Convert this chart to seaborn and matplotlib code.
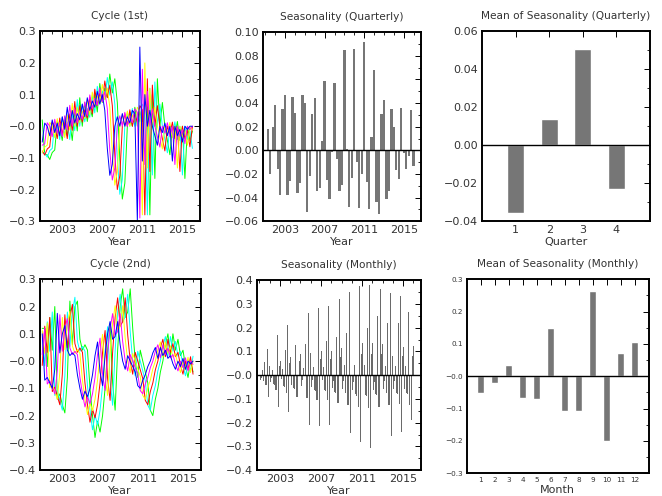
import numpy as np
import pandas as pd
import matplotlib
matplotlib.use("Agg")
import matplotlib.pyplot as plt
import seaborn as sns
from matplotlib.ticker import MultipleLocator, FixedLocator, FixedFormatter

# quarterly time axis for the cycle curves (2001Q1 .. 2016Q1)
cycle_time = np.arange(2001.0, 2016.01, 0.25)

# cycle (1st) - six curves
cyc1_blue = [-0.05, 0.01, 0.00, -0.03, 0.02, -0.02, 0.01, -0.03, 0.03, -0.01, 0.06, 0.00, 0.05, 0.01, 0.04, 0.02,
             0.07, 0.03, 0.09, 0.05, 0.08, 0.06, 0.11, 0.07, 0.10, 0.05, -0.07, -0.155, -0.12, 0.00, 0.03, 0.00,
             0.04, 0.00, 0.03, 0.01, 0.05, 0.04, -0.30, 0.25, -0.11, 0.10, 0.00, 0.05, 0.00, -0.03, -0.06, 0.00,
             -0.02, 0.01, -0.03, 0.00, -0.11, 0.00, -0.03, -0.01, -0.05, 0.00, -0.01, 0.00, 0.00]
cyc1_magenta = [-0.06, -0.055, 0.011, 0.0, -0.033, 0.022, -0.022, 0.011, -0.033, 0.033, -0.011, 0.066, 0.0, 0.055,
                0.011, 0.044, 0.022, 0.077, 0.033, 0.099, 0.055, 0.088, 0.066, 0.121, 0.077, 0.11, 0.055, -0.077,
                -0.17, -0.132, 0.0, 0.033, 0.0, 0.044, 0.0, 0.033, 0.011, 0.055, 0.044, -0.29, 0.18, -0.121, 0.11,
                0.0, 0.055, 0.0, -0.033, -0.066, 0.0, -0.022, 0.011, -0.033, 0.0, -0.121, 0.0, -0.033, -0.011,
                -0.055, 0.0, -0.011, 0.0]
cyc1_yellow = [-0.084, -0.066, -0.06, 0.012, 0.0, -0.036, 0.024, -0.024, 0.012, -0.036, 0.036, -0.012, 0.072, 0.0,
               0.06, 0.012, 0.048, 0.024, 0.084, 0.036, 0.108, 0.06, 0.096, 0.072, 0.132, 0.084, 0.12, 0.06, -0.084,
               -0.186, -0.144, 0.0, 0.036, 0.0, 0.048, 0.0, 0.036, 0.012, 0.06, 0.048, -0.28, 0.20, -0.132, 0.12,
               0.0, 0.06, 0.0, -0.036, -0.072, 0.0, -0.024, 0.012, -0.036, 0.0, -0.132, 0.0, -0.036, -0.012, -0.06,
               0.0, -0.012]
cyc1_red = [-0.078, -0.091, -0.072, -0.065, 0.013, 0.0, -0.039, 0.026, -0.026, 0.013, -0.039, 0.039, -0.013, 0.078,
            0.0, 0.065, 0.013, 0.052, 0.026, 0.091, 0.039, 0.117, 0.065, 0.104, 0.078, 0.143, 0.091, 0.13, 0.065,
            -0.091, -0.20, -0.156, 0.0, 0.039, 0.0, 0.052, 0.0, 0.039, 0.013, 0.065, 0.052, -0.28, 0.15, -0.143,
            0.13, 0.0, 0.065, 0.0, -0.039, -0.078, 0.0, -0.026, 0.013, -0.039, 0.0, -0.143, 0.0, -0.039, -0.013,
            -0.065, 0.0]
cyc1_cyan = [-0.084, -0.084, -0.098, -0.077, -0.07, 0.014, 0.0, -0.042, 0.028, -0.028, 0.014, -0.042, 0.042, -0.014,
             0.084, 0.0, 0.07, 0.014, 0.056, 0.028, 0.098, 0.042, 0.126, 0.07, 0.112, 0.084, 0.154, 0.098, 0.14,
             0.07, -0.098, -0.215, -0.168, 0.0, 0.042, 0.0, 0.056, 0.0, 0.042, 0.014, 0.07, 0.056, -0.28, 0.12,
             -0.154, 0.14, 0.0, 0.07, 0.0, -0.042, -0.084, 0.0, -0.028, 0.014, -0.042, 0.0, -0.154, 0.0, -0.042,
             -0.014, -0.07]
cyc1_green = [0.02, -0.09, -0.09, -0.105, -0.083, -0.075, 0.015, 0.0, -0.045, 0.03, -0.03, 0.015, -0.045, 0.045,
              -0.015, 0.09, 0.0, 0.075, 0.015, 0.06, 0.03, 0.105, 0.045, 0.135, 0.075, 0.12, 0.09, 0.165, 0.105,
              0.15, 0.075, -0.105, -0.23, -0.18, 0.0, 0.045, 0.0, 0.06, 0.0, 0.045, 0.015, 0.075, 0.06, -0.28, 0.10,
              -0.165, 0.15, 0.0, 0.075, 0.0, -0.045, -0.09, 0.0, -0.03, 0.015, -0.045, 0.0, -0.165, 0.0, -0.045,
              -0.015]

# cycle (2nd)
cyc2_blue = [0.10, -0.07, -0.06, -0.08, -0.10, -0.03, 0.175, 0.03, 0.10, 0.13, 0.04, 0.02, 0.03, 0.02, -0.05, -0.10,
             -0.14, -0.11, -0.13, -0.10, -0.05, 0.02, 0.07, -0.04, -0.09, 0.02, 0.10, 0.145, 0.08, 0.09, 0.145,
             0.06, 0.00, -0.03, 0.02, 0.00, -0.02, -0.04, -0.09, -0.10, -0.07, -0.05, -0.02, 0.00, 0.03, 0.05,
             0.01, 0.05, 0.02, 0.04, 0.01, 0.02, -0.01, -0.03, 0.00, -0.02, 0.01, -0.03, 0.00, -0.01, 0.00]
cyc2_magenta = [0.024, 0.12, -0.084, -0.072, -0.096, -0.12, -0.036, 0.17, 0.036, 0.12, 0.156, 0.048, 0.024, 0.036,
                0.024, -0.06, -0.12, -0.168, -0.132, -0.156, -0.12, -0.06, 0.024, 0.084, -0.048, -0.108, 0.024,
                0.12, 0.174, 0.096, 0.108, 0.174, 0.072, 0.0, -0.036, 0.024, 0.0, -0.024, -0.048, -0.108, -0.12,
                -0.084, -0.06, -0.024, 0.0, 0.036, 0.06, 0.012, 0.06, 0.024, 0.048, 0.012, 0.024, -0.012, -0.036,
                0.0, -0.024, 0.012, -0.036, 0.0, -0.012]
cyc2_yellow = [0.112, 0.028, 0.14, -0.098, -0.084, -0.112, -0.14, -0.042, 0.16, 0.042, 0.14, 0.182, 0.056, 0.028,
               0.042, 0.028, -0.07, -0.14, -0.196, -0.154, -0.182, -0.14, -0.07, 0.028, 0.098, -0.056, -0.126,
               0.028, 0.14, 0.203, 0.112, 0.126, 0.203, 0.084, 0.0, -0.042, 0.028, 0.0, -0.028, -0.056, -0.126,
               -0.14, -0.098, -0.07, -0.028, 0.0, 0.042, 0.07, 0.014, 0.07, 0.028, 0.056, 0.014, 0.028, -0.014,
               -0.042, 0.0, -0.028, 0.014, -0.042, 0.0]
cyc2_red = [-0.016, 0.128, 0.032, 0.16, -0.112, -0.096, -0.128, -0.16, -0.048, 0.17, 0.048, 0.16, 0.208, 0.064,
            0.032, 0.048, 0.032, -0.08, -0.16, -0.224, -0.176, -0.208, -0.16, -0.08, 0.032, 0.112, -0.064, -0.144,
            0.032, 0.16, 0.232, 0.128, 0.144, 0.232, 0.096, 0.0, -0.048, 0.032, 0.0, -0.032, -0.064, -0.144, -0.16,
            -0.112, -0.08, -0.032, 0.0, 0.048, 0.08, 0.016, 0.08, 0.032, 0.064, 0.016, 0.032, -0.016, -0.048, 0.0,
            -0.032, 0.016, -0.048]
cyc2_cyan = [0.108, -0.018, 0.144, 0.036, 0.18, -0.126, -0.108, -0.144, -0.18, -0.054, 0.18, 0.054, 0.18, 0.234,
             0.072, 0.036, 0.054, 0.036, -0.09, -0.18, -0.252, -0.198, -0.234, -0.18, -0.09, 0.036, 0.126, -0.072,
             -0.162, 0.036, 0.18, 0.245, 0.144, 0.162, 0.245, 0.108, 0.0, -0.054, 0.036, 0.0, -0.036, -0.072,
             -0.162, -0.18, -0.126, -0.09, -0.036, 0.0, 0.054, 0.09, 0.018, 0.09, 0.036, 0.072, 0.018, 0.036,
             -0.018, -0.054, 0.0, -0.036, 0.018]
cyc2_green = [0.12, 0.12, -0.02, 0.16, 0.04, 0.2, -0.14, -0.12, -0.16, -0.19, -0.06, 0.22, 0.06, 0.2, 0.22, 0.08,
              0.04, 0.06, 0.04, -0.1, -0.2, -0.28, -0.22, -0.26, -0.2, -0.1, 0.04, 0.14, -0.08, -0.18, 0.04, 0.2,
              0.265, 0.16, 0.18, 0.265, 0.12, 0.0, -0.06, 0.04, 0.0, -0.04, -0.08, -0.18, -0.2, -0.14, -0.1, -0.04,
              0.0, 0.06, 0.1, 0.02, 0.1, 0.04, 0.08, 0.02, 0.04, -0.02, -0.06, 0.0, -0.04]

# seasonality (quarterly), one bar per quarter from 2001Q2
seas_q = [0.018, -0.020, 0.020, 0.038, -0.016, -0.038, 0.035, 0.047, -0.038, -0.026, 0.045, 0.032, -0.036, -0.028,
          0.047, 0.040, -0.052, -0.022, 0.031, 0.044, -0.034, -0.032, 0.008, 0.059, -0.025, -0.041, -0.001, 0.057,
          -0.007, -0.034, -0.029, 0.085, 0.001, -0.048, -0.023, 0.086, -0.010, -0.049, -0.020, 0.092, -0.027,
          -0.050, 0.011, 0.068, -0.044, -0.054, 0.031, 0.043, -0.041, -0.034, 0.035, 0.020, -0.017, -0.024, 0.036,
          -0.002, -0.016, -0.005, 0.034, -0.013]

# seasonality (monthly), one row of 12 months per year
seas_m_2001 = [-0.02, -0.01, 0.02, -0.025, -0.025, 0.055, -0.04, -0.04, 0.11, -0.09, 0.03, 0.04]
seas_m_2002 = [-0.03, -0.012, 0.02, -0.037, -0.04, 0.085, -0.062, -0.062, 0.17, -0.135, 0.04, 0.06]
seas_m_2003 = [-0.035, -0.015, 0.025, -0.045, -0.05, 0.105, -0.075, -0.075, 0.21, -0.155, 0.05, 0.075]
seas_m_2004 = [-0.043, -0.019, 0.03, -0.055, -0.06, 0.128, -0.092, -0.092, 0.255, -0.19, 0.061, 0.091]
seas_m_2005 = [-0.044, -0.019, 0.03, -0.057, -0.061, 0.13, -0.094, -0.094, 0.26, -0.21, 0.063, 0.093]
seas_m_2006 = [-0.048, -0.021, 0.033, -0.062, -0.067, 0.143, -0.103, -0.103, 0.285, -0.215, 0.068, 0.102]
seas_m_2007 = [-0.049, -0.021, 0.034, -0.063, -0.068, 0.146, -0.105, -0.105, 0.29, -0.21, 0.07, 0.104]
seas_m_2008 = [-0.054, -0.024, 0.037, -0.07, -0.075, 0.16, -0.116, -0.116, 0.32, -0.225, 0.077, 0.114]
seas_m_2009 = [-0.059, -0.026, 0.041, -0.076, -0.082, 0.176, -0.126, -0.126, 0.35, -0.245, 0.084, 0.125]
seas_m_2010 = [-0.063, -0.028, 0.044, -0.081, -0.088, 0.20, -0.135, -0.135, 0.375, -0.28, 0.09, 0.134]
seas_m_2011 = [-0.064, -0.028, 0.044, -0.083, -0.089, 0.20, -0.137, -0.137, 0.38, -0.305, 0.091, 0.136]
seas_m_2012 = [-0.061, -0.027, 0.043, -0.079, -0.085, 0.25, -0.132, -0.132, 0.365, -0.285, 0.088, 0.131]
seas_m_2013 = [-0.058, -0.025, 0.04, -0.075, -0.081, 0.22, -0.124, -0.124, 0.345, -0.255, 0.083, 0.123]
seas_m_2014 = [-0.056, -0.025, 0.039, -0.073, -0.078, 0.22, -0.121, -0.121, 0.335, -0.24, 0.081, 0.12]
seas_m_2015 = [-0.058, -0.025, 0.04, -0.075, -0.081, 0.265, -0.124, -0.124, 0.345, -0.19, 0.083, 0.123]

# means of seasonality
quarter_labels = ["1", "2", "3", "4"]
mean_q = [-0.0355, 0.0138, 0.0505, -0.0232]
month_labels = [str(m) for m in range(1, 13)]
mean_m = [-0.052, -0.022, 0.036, -0.066, -0.072, 0.15, -0.108, -0.108, 0.265, -0.20, 0.072, 0.107]

# tick labels
ylab_cyc1 = ["-0.3", "-0.2", "-0.1", "-0.0", "0.1", "0.2", "0.3"]
ylab_cyc2 = ["-0.4", "-0.3", "-0.2", "-0.1", "-0.0", "0.1", "0.2", "0.3"]
ylab_sq = ["-0.06", "-0.04", "-0.02", "0.00", "0.02", "0.04", "0.06", "0.08", "0.10"]
ylab_mq = ["-0.04", "-0.02", "0.00", "0.02", "0.04", "0.06"]
ylab_sm = ["-0.4", "-0.3", "-0.2", "-0.1", "-0.0", "0.1", "0.2", "0.3", "0.4"]
ylab_mm = ["-0.3", "-0.2", "-0.1", "-0.0", "0.1", "0.2", "0.3"]
year_ticks = [2003, 2007, 2011, 2015]

line_names = ["blue", "magenta", "yellow", "red", "cyan", "green"]
line_colors = {"blue": "#0000ff", "magenta": "#ff00ff", "yellow": "#ffff00",
               "red": "#ff0000", "cyan": "#00ffff", "green": "#00ff00"}

sns.set_style("white")
plt.rcParams["font.family"] = ["DejaVu Sans"]
plt.rcParams["axes.unicode_minus"] = False
txt = "#333333"
bar_grey = "#767676"


def cycle_frame(series):
    parts = []
    for name, vals in zip(line_names, series):
        parts.append(pd.DataFrame({"t": cycle_time[:len(vals)], "v": vals, "line": name}))
    return pd.concat(parts, ignore_index=True)


def idl_axis(ax, title, xlabel, yticks, ylabels, ymin, ymax, yminor, fs=8):
    ax.set_ylim(ymin, ymax)
    ax.yaxis.set_major_locator(FixedLocator(yticks))
    ax.yaxis.set_major_formatter(FixedFormatter([s.replace("-", "\u2212") for s in ylabels]))
    ax.yaxis.set_minor_locator(MultipleLocator(yminor))
    for s in ax.spines.values():
        s.set_visible(True)
        s.set_linewidth(1.4)
        s.set_color("black")
    ax.tick_params(which="both", direction="in", top=True, right=True, colors="black",
                   labelcolor=txt, labelsize=fs)
    ax.tick_params(which="major", length=4, width=0.7, pad=3)
    ax.tick_params(which="minor", length=2, width=0.6)
    ax.set_title(title, fontsize=7.6, color=txt, pad=9)
    ax.set_xlabel(xlabel, fontsize=8, color=txt, labelpad=1)
    ax.set_ylabel("")


def year_axis(ax):
    ax.set_xlim(2000.75, 2016.75)
    ax.xaxis.set_major_locator(FixedLocator(year_ticks))
    ax.xaxis.set_minor_locator(MultipleLocator(1))


fig = plt.figure(figsize=(6.62, 4.96), dpi=100)
ax1 = fig.add_axes([0.060, 0.554, 0.242, 0.383])
ax2 = fig.add_axes([0.397, 0.554, 0.239, 0.381])
ax3 = fig.add_axes([0.728, 0.554, 0.254, 0.383])
ax4 = fig.add_axes([0.060, 0.052, 0.243, 0.385])
ax5 = fig.add_axes([0.388, 0.052, 0.248, 0.383])
ax6 = fig.add_axes([0.705, 0.046, 0.275, 0.391])

# cycles
draw_order = line_names[::-1]
for ax, series in [(ax1, [cyc1_blue, cyc1_magenta, cyc1_yellow, cyc1_red, cyc1_cyan, cyc1_green]),
                   (ax4, [cyc2_blue, cyc2_magenta, cyc2_yellow, cyc2_red, cyc2_cyan, cyc2_green])]:
    df = cycle_frame(series)
    sns.lineplot(data=df, x="t", y="v", hue="line", hue_order=draw_order, palette=line_colors,
                 estimator=None, sort=False, legend=False, linewidth=0.7, ax=ax)
    year_axis(ax)
idl_axis(ax1, "Cycle (1st)", "Year", np.arange(-0.3, 0.31, 0.1), ylab_cyc1, -0.3, 0.3, 0.05)
idl_axis(ax4, "Cycle (2nd)", "Year", np.arange(-0.4, 0.31, 0.1), ylab_cyc2, -0.4, 0.3, 0.05)

# quarterly seasonality over time
q_time = 2001.25 + 0.25 * np.arange(len(seas_q))
ax2.bar(q_time, seas_q, width=0.23, color=bar_grey, linewidth=0)
ax2.axhline(0, color="black", lw=1.0)
year_axis(ax2)
idl_axis(ax2, "Seasonality (Quarterly)", "Year", np.arange(-0.06, 0.101, 0.02), ylab_sq, -0.06, 0.10, 0.01)

# monthly seasonality over time
seas_m = np.concatenate([seas_m_2001, seas_m_2002, seas_m_2003, seas_m_2004, seas_m_2005, seas_m_2006,
                         seas_m_2007, seas_m_2008, seas_m_2009, seas_m_2010, seas_m_2011, seas_m_2012,
                         seas_m_2013, seas_m_2014, seas_m_2015])
m_time = 2001.1 + np.arange(len(seas_m)) / 12.0
ax5.bar(m_time, seas_m, width=0.08, color="#6a6a6a", linewidth=0)
ax5.axhline(0, color="black", lw=1.0)
year_axis(ax5)
idl_axis(ax5, "Seasonality (Monthly)", "Year", np.arange(-0.4, 0.41, 0.1), ylab_sm, -0.4, 0.4, 0.05)

# means
sns.barplot(x=quarter_labels, y=mean_q, color=bar_grey, saturation=1, width=0.5, ax=ax3)
ax3.axhline(0, color="black", lw=1.0)
ax3.set_xlim(-1, 4)
idl_axis(ax3, "Mean of Seasonality (Quarterly)", "Quarter", np.arange(-0.04, 0.061, 0.02), ylab_mq,
         -0.04, 0.06, 0.01)
ax3.tick_params(axis="x", which="minor", bottom=False, top=False)

sns.barplot(x=month_labels, y=mean_m, color=bar_grey, saturation=1, width=0.5, ax=ax6)
ax6.axhline(0, color="black", lw=1.0)
ax6.set_xlim(-1, 12)
idl_axis(ax6, "Mean of Seasonality (Monthly)", "Month", np.arange(-0.3, 0.31, 0.1), ylab_mm,
         -0.3, 0.3, 0.05, fs=5.2)
ax6.tick_params(axis="x", which="minor", bottom=False, top=False)

fig.savefig("out.png", dpi=100)
